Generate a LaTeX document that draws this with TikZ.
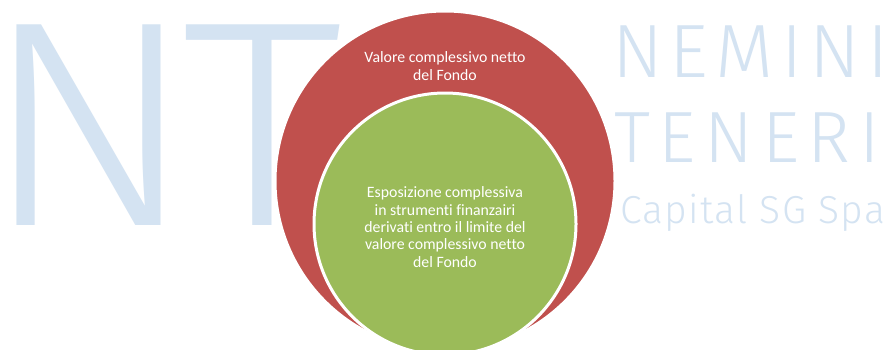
\documentclass[tikz,border=0pt]{standalone}
\usepackage{fontspec}
\setmainfont{Carlito}[Ligatures=NoCommon]
\newfontfamily\wmfont{Fira Sans Light}
\newfontfamily\wmfontA{Fira Sans Light}[LetterSpace=9.5]
\newfontfamily\wmfontB{Fira Sans Light}[LetterSpace=12]
\newfontfamily\wmfontC{Fira Sans Light}[LetterSpace=3.3]
\definecolor{wmblue}{RGB}{212,227,242}
\definecolor{ringred}{RGB}{192,80,77}
\definecolor{ringgreen}{RGB}{155,187,89}
\tikzset{
  wm/.style={inner sep=0pt, outer sep=0pt, text=wmblue, anchor=base west},
  ring/.style={circle, draw=white, line width=3pt, inner sep=0pt},
  ringtext/.style={text=white, align=center, inner sep=0pt,
    font=\fontsize{15.8}{17.3}\selectfont}
}
\begin{document}
\begin{tikzpicture}[x=1pt,y=-1pt]
\useasboundingbox (0,0) rectangle (885,349);
\clip (0,0) rectangle (885,349);
\fill[white] (0,0) rectangle (885,349);
% watermark
\node[wm, font=\wmfont\fontsize{293}{293}\selectfont] (wmN) at (0,225) {\kern-18.5pt\scalebox{1.09}[1]{N}};
\node[wm, font=\wmfont\fontsize{293}{293}\selectfont] (wmT) at (181.7,225) {\scalebox{1.115}[1]{T}};
\node[wm, font=\wmfontA\fontsize{75.5}{75.5}\selectfont] (wm1) at (612,77) {NEMINI};
\node[wm, font=\wmfontB\fontsize{72.6}{72.6}\selectfont] (wm2) at (614,162) {TENERI};
\node[wm, font=\wmfontC\fontsize{39}{39}\selectfont] (wm3) at (620,223) {Capital SG Spa};
% rings
\node[ring, fill=ringred, minimum size=340pt] (outer) at (445,181) {};
\node[ring, fill=ringgreen, minimum size=262pt] (inner) at (445,224) {};
\node[ringtext] (outertext) at (445,66) {Valore complessivo netto\\del Fondo};
\node[ringtext] (innertext) at (445,227) {Esposizione complessiva\\in strumenti finanzairi\\derivati entro il limite del\\valore complessivo netto\\del Fondo};
\end{tikzpicture}
\end{document}
